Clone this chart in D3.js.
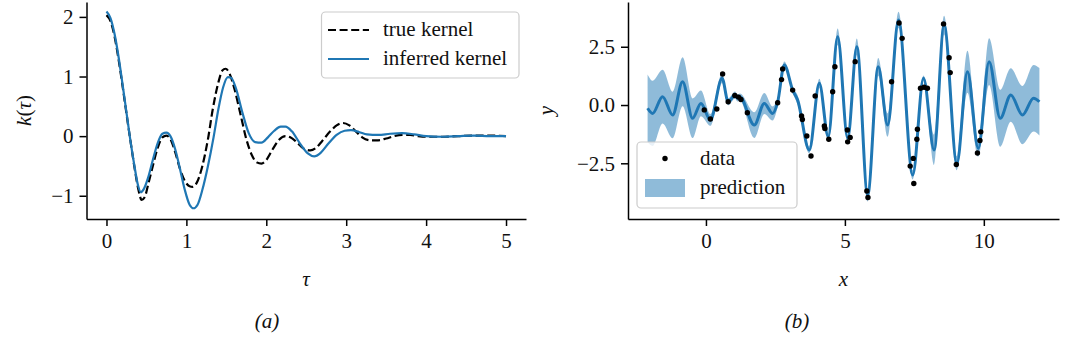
<!DOCTYPE html>
<html>
<head>
<meta charset="utf-8">
<script src="https://cdn.jsdelivr.net/npm/d3@7"></script>
<style>
  html, body { margin: 0; padding: 0; background: #ffffff; }
  svg { display: block; }
  svg text { font-family: "Liberation Serif", "Times New Roman", serif; }
</style>
</head>
<body>
<svg id="fig" width="1065" height="337"></svg>
<script>
// ---------- panel (a): kernels ----------
const trueTau = [0,0.05,0.10,0.15,0.20,0.25,0.30,0.35,0.40,0.44,0.48,0.52,0.58,0.64,0.70,0.75,0.80,0.86,0.92,0.98,
  1.04,1.08,1.13,1.20,1.27,1.33,1.40,1.45,1.49,1.54,1.60,1.68,1.75,1.82,1.88,1.94,2.00,2.08,2.16,2.24,
  2.30,2.38,2.46,2.55,2.62,2.70,2.80,2.88,2.96,3.04,3.12,3.20,3.30,3.40,3.50,3.60,3.70,3.80,3.90,4.00,
  4.20,4.40,4.60,4.80,5.00];
const trueK = [2.03,1.93,1.68,1.30,0.85,0.38,-0.08,-0.52,-0.90,-1.07,-1.02,-0.82,-0.50,-0.20,-0.02,0.01,-0.05,-0.27,-0.55,-0.75,
  -0.84,-0.85,-0.78,-0.50,-0.05,0.45,0.90,1.10,1.13,1.05,0.80,0.35,-0.05,-0.32,-0.44,-0.46,-0.40,-0.22,-0.06,0.00,
  -0.02,-0.10,-0.20,-0.24,-0.20,-0.08,0.08,0.18,0.22,0.18,0.08,-0.02,-0.07,-0.07,-0.04,0.00,0.02,0.02,0.00,-0.01,
  -0.01,0.00,0.01,0.01,0.00];

const inferredTau = [0,0.05,0.10,0.15,0.20,0.25,0.30,0.35,0.39,0.43,0.47,0.52,0.58,0.64,0.70,0.75,0.80,0.86,0.92,0.98,
  1.04,1.09,1.14,1.20,1.27,1.34,1.40,1.46,1.52,1.56,1.62,1.70,1.78,1.86,1.94,2.02,2.10,2.18,2.24,2.32,
  2.42,2.52,2.60,2.68,2.78,2.88,2.98,3.06,3.16,3.26,3.40,3.55,3.70,3.85,4.00,4.20,4.40,4.60,4.80,5.00];
const inferredK = [2.09,1.98,1.72,1.34,0.88,0.40,-0.08,-0.50,-0.80,-0.94,-0.88,-0.70,-0.40,-0.12,0.04,0.06,0.00,-0.22,-0.55,-0.90,
  -1.15,-1.21,-1.15,-0.90,-0.50,-0.02,0.45,0.82,0.99,0.98,0.80,0.40,0.05,-0.10,-0.11,-0.02,0.09,0.16,0.16,0.08,
  -0.12,-0.29,-0.34,-0.28,-0.12,0.02,0.09,0.10,0.07,0.03,0.02,0.04,0.05,0.03,0.00,-0.01,0.00,0.01,0.00,0.00];

const tauTicks = [0, 1, 2, 3, 4, 5];
const kTicks = [-1, 0, 1, 2];

// ---------- panel (b): GP regression ----------
const obsX = [-0.06,0.16,0.39,0.60,0.80,1.04,1.17,1.26,1.49,2.58,2.72,2.76,3.12,3.44,3.47,3.63,3.78,3.93,4.26,4.28,
  4.42,4.56,4.64,5.09,5.10,5.19,5.37,5.79,5.83,6.68,6.95,7.06,7.35,7.46,7.48,7.59,7.61,7.72,7.85,7.97,
  8.55,8.75,8.79,9.01,9.77,9.86,9.89];
const obsY = [-0.21,-0.60,-0.17,1.33,0.14,0.41,0.34,0.24,-0.33,0.10,1.09,1.55,0.64,-0.47,-0.62,-1.33,-2.19,0.39,-0.90,-1.01,
  -1.47,0.57,1.64,-1.07,-1.58,-1.39,1.86,-3.69,-3.97,1.00,3.52,2.86,-2.62,-2.29,-3.37,-1.47,-1.04,0.72,0.76,0.72,
  3.48,2.03,1.39,-2.55,-2.06,-1.52,-1.15];

const predX = [-2.10,-1.92,-1.56,-1.20,-0.84,-0.48,-0.18,0.16,0.58,0.80,1.05,1.13,1.22,1.74,2.10,2.40,2.58,2.82,3.12,3.30,
  3.72,4.08,4.40,4.74,5.10,5.43,5.82,6.20,6.54,6.93,7.44,7.83,8.21,8.57,9.03,9.41,9.80,10.19,10.59,10.97,
  11.39,11.79,12.00];
const predMean = [-0.14,-0.36,0.36,-0.43,1.00,-0.57,0.07,-0.64,1.15,0.14,0.43,0.30,0.34,-0.86,0.07,-0.36,0.12,1.72,0.64,0.21,
  -1.93,0.93,-1.36,2.93,-1.43,2.50,-3.86,1.64,-0.86,3.65,-3.00,1.15,-1.93,3.43,-2.50,1.43,-1.86,1.86,-0.57,0.43,
  -0.43,0.29,0.14];
const predSpread = [1.45,1.40,1.15,1.00,1.05,0.85,0.55,0.25,0.20,0.15,0.15,0.15,0.15,0.55,0.45,0.30,0.20,0.15,0.12,0.20,
  0.15,0.20,0.12,0.35,0.12,0.35,0.28,0.38,0.50,0.35,0.20,0.12,0.65,0.40,0.30,0.90,0.35,1.00,1.22,1.15,
  1.25,1.43,1.45];

const xTicks = [0, 5, 10];
const yTicks = [-2.5, 0, 2.5];

// ---------- styling ----------
const BLUE = "#1f77b4";
const FONT = 21;
const fmtMinus = s => s.replace("-", "\u2212");

const svg = d3.select("#fig");

function styleAxis(g) {
  g.attr("font-family", null);
  g.select(".domain").attr("stroke", "#000").attr("stroke-width", 1.5);
  g.selectAll(".tick line").attr("stroke", "#000").attr("stroke-width", 1.5);
  g.selectAll(".tick text").attr("fill", "#111").attr("font-size", FONT);
}

function legendBox(g, x, y, w, h) {
  g.append("rect").attr("x", x).attr("y", y).attr("width", w).attr("height", h)
    .attr("rx", 4).attr("ry", 4)
    .attr("fill", "#ffffff").attr("fill-opacity", 0.8)
    .attr("stroke", "#cccccc").attr("stroke-width", 1.2);
}

// ===== panel (a) =====
const xa = d3.scaleLinear().domain([-0.25, 5.25]).range([86.5, 526]);
const ya = d3.scaleLinear().domain([-1.39, 2.25]).range([219, 2]);

const gA = svg.append("g");

const kernelLine = d3.line().x(d => xa(d[0])).y(d => ya(d[1])).curve(d3.curveMonotoneX);

gA.append("path").datum(d3.zip(trueTau, trueK))
  .attr("d", kernelLine).attr("fill", "none")
  .attr("stroke", "#000").attr("stroke-width", 2.2)
  .attr("stroke-dasharray", "8,3.6");

gA.append("path").datum(d3.zip(inferredTau, inferredK))
  .attr("d", kernelLine).attr("fill", "none")
  .attr("stroke", BLUE).attr("stroke-width", 2.2);

gA.append("g").attr("transform", "translate(0,219)")
  .call(d3.axisBottom(xa).tickValues(tauTicks).tickFormat(d => fmtMinus(String(d)))
    .tickSize(7).tickSizeOuter(0).tickPadding(7))
  .call(styleAxis);

gA.append("g").attr("transform", "translate(86.5,0)")
  .call(d3.axisLeft(ya).tickValues(kTicks).tickFormat(d => fmtMinus(String(d)))
    .tickSize(7).tickSizeOuter(0).tickPadding(6))
  .call(styleAxis);

// axis labels
const kLabel = gA.append("text").attr("transform", "translate(31,110.5) rotate(-90)")
  .attr("text-anchor", "middle").attr("font-size", FONT).attr("fill", "#111");
kLabel.append("tspan").attr("font-style", "italic").text("k");
kLabel.append("tspan").text("(");
kLabel.append("tspan").attr("font-style", "italic").text("τ");
kLabel.append("tspan").text(")");

gA.append("text").attr("x", 306).attr("y", 286).attr("text-anchor", "middle")
  .attr("font-size", FONT).attr("font-style", "italic").attr("fill", "#111").text("τ");

svg.append("text").attr("x", 267).attr("y", 328).attr("text-anchor", "middle")
  .attr("font-size", FONT).attr("font-style", "italic").attr("fill", "#111").text("(a)");

// legend (a)
const legA = gA.append("g");
legendBox(legA, 321.5, 12, 197.5, 66);
legA.append("line").attr("x1", 328).attr("x2", 369).attr("y1", 30).attr("y2", 30)
  .attr("stroke", "#000").attr("stroke-width", 2.2).attr("stroke-dasharray", "8,3.6");
legA.append("line").attr("x1", 328).attr("x2", 369).attr("y1", 59).attr("y2", 59)
  .attr("stroke", BLUE).attr("stroke-width", 2.2);
legA.append("text").attr("x", 383).attr("y", 36).attr("font-size", FONT).attr("fill", "#111").text("true kernel");
legA.append("text").attr("x", 383).attr("y", 65).attr("font-size", FONT).attr("fill", "#111").text("inferred kernel");

// ===== panel (b) =====
const xb = d3.scaleLinear().domain([-2.805, 12.705]).range([628, 1059]);
const yb = d3.scaleLinear().domain([-4.89, 4.42]).range([219, 2]);

const gB = svg.append("g");
const pred = d3.zip(predX, predMean, predSpread);

gB.append("path").datum(pred)
  .attr("d", d3.area().x(d => xb(d[0]))
    .y0(d => yb(d[1] - d[2])).y1(d => yb(d[1] + d[2]))
    .curve(d3.curveMonotoneX))
  .attr("fill", BLUE).attr("fill-opacity", 0.5).attr("stroke", "none");

gB.append("path").datum(pred)
  .attr("d", d3.line().x(d => xb(d[0])).y(d => yb(d[1])).curve(d3.curveMonotoneX))
  .attr("fill", "none").attr("stroke", BLUE).attr("stroke-width", 3);

gB.append("g").selectAll("circle").data(d3.zip(obsX, obsY)).join("circle")
  .attr("cx", d => xb(d[0])).attr("cy", d => yb(d[1])).attr("r", 2.7).attr("fill", "#000");

gB.append("g").attr("transform", "translate(0,219)")
  .call(d3.axisBottom(xb).tickValues(xTicks).tickFormat(d => fmtMinus(String(d)))
    .tickSize(7).tickSizeOuter(0).tickPadding(7))
  .call(styleAxis);

gB.append("g").attr("transform", "translate(628,0)")
  .call(d3.axisLeft(yb).tickValues(yTicks).tickFormat(d => fmtMinus(d3.format(".1f")(d)))
    .tickSize(7).tickSizeOuter(0).tickPadding(6))
  .call(styleAxis);

gB.append("text").attr("transform", "translate(553,110.5) rotate(-90)")
  .attr("text-anchor", "middle").attr("font-size", FONT).attr("font-style", "italic")
  .attr("fill", "#111").text("y");

gB.append("text").attr("x", 843.5).attr("y", 286).attr("text-anchor", "middle")
  .attr("font-size", FONT).attr("font-style", "italic").attr("fill", "#111").text("x");

svg.append("text").attr("x", 797).attr("y", 328).attr("text-anchor", "middle")
  .attr("font-size", FONT).attr("font-style", "italic").attr("fill", "#111").text("(b)");

// legend (b)
const legB = gB.append("g");
legendBox(legB, 637, 142, 160, 66);
legB.append("circle").attr("cx", 665).attr("cy", 158.5).attr("r", 2.7).attr("fill", "#000");
legB.append("rect").attr("x", 645).attr("y", 179).attr("width", 40).attr("height", 18)
  .attr("fill", BLUE).attr("fill-opacity", 0.5);
legB.append("text").attr("x", 700).attr("y", 165).attr("font-size", FONT).attr("fill", "#111").text("data");
legB.append("text").attr("x", 700).attr("y", 194).attr("font-size", FONT).attr("fill", "#111").text("prediction");
</script>
</body>
</html>
